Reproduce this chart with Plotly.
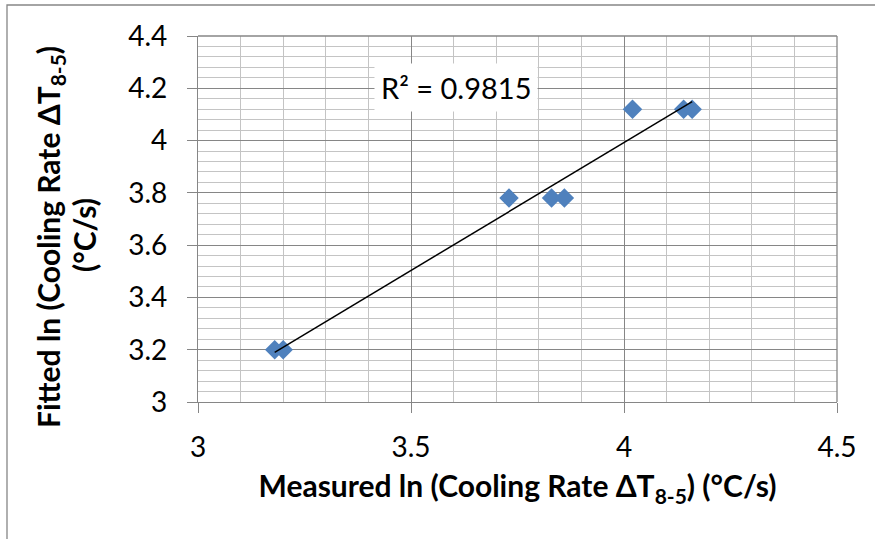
import numpy as np
import plotly.graph_objects as go

# Data
measured = [3.18, 3.20, 3.73, 3.83, 3.86, 4.02, 4.14, 4.16]
fitted = [3.20, 3.20, 3.78, 3.78, 3.78, 4.12, 4.12, 4.12]
r2_label = "R² = 0.9815"
x_ticks = [3, 3.5, 4, 4.5]
y_ticks = [3, 3.2, 3.4, 3.6, 3.8, 4, 4.2, 4.4]
x_title = "Measured ln (Cooling Rate ΔT<sub>8-5</sub>) (°C/s)"
y_title_lines = ["Fitted ln (Cooling Rate ΔT<sub>8-5</sub>)", "(°C/s)"]

# Linear trendline (least squares)
slope, intercept = np.polyfit(measured, fitted, 1)
trend_x = [min(measured), max(measured)]
trend_y = [slope * v + intercept for v in trend_x]

W, H = 875, 539
L, R, T, B = 198, 38, 36, 137
pw, ph = W - L - R, H - T - B

def px(xp):
    return (xp - L) / pw

def py(yp):
    return (H - B - yp) / ph

FONT = "Lato"
MAJOR = "#868686"
MINOR = "#c4c4c4"

fig = go.Figure()
fig.add_trace(go.Scatter(
    x=measured, y=fitted, mode="markers",
    marker=dict(symbol="diamond", size=15, color="#4F81BD", line=dict(width=0)),
    showlegend=False, hoverinfo="skip",
))
fig.add_trace(go.Scatter(
    x=trend_x, y=trend_y, mode="lines",
    line=dict(color="black", width=1.5),
    showlegend=False, hoverinfo="skip",
))

fig.add_annotation(
    x=3.6065, y=4.203, xref="x", yref="y",
    text=r2_label, showarrow=False,
    font=dict(family=FONT, size=29, color="black"),
    bgcolor="white", borderpad=6,
)

# y-axis title (two lines, rotated)
for text, xc, yc in zip(y_title_lines, [50, 84], [237, 235]):
    fig.add_annotation(
        x=px(xc), y=py(yc), xref="paper", yref="paper",
        xanchor="center", yanchor="middle",
        text=text, textangle=-90, showarrow=False,
        font=dict(family=FONT, size=30, color="black", weight=700),
    )

# outer chart frame
fig.add_shape(type="rect", xref="paper", yref="paper",
              x0=px(7), x1=px(885), y0=py(550), y1=py(5),
              line=dict(color=MAJOR, width=1.3), fillcolor="rgba(0,0,0,0)",
              layer="below")

axis_common = dict(
    showline=True, linecolor=MAJOR, linewidth=1.3, mirror=False,
    showgrid=True, gridcolor=MAJOR, gridwidth=1,
    ticks="outside", ticklen=10, tickcolor=MAJOR, tickwidth=1.3,
    tickfont=dict(family=FONT, size=28, color="black"),
    zeroline=False,
)

fig.update_xaxes(
    range=[3, 4.5], tickvals=x_ticks, ticktext=[str(v) for v in x_ticks],
    minor=dict(dtick=0.1, tick0=3, showgrid=True, gridcolor=MINOR, gridwidth=1, ticks=""),
    title=dict(text=x_title,
               font=dict(family=FONT, size=30, color="black", weight=700), standoff=14),
    ticklabelstandoff=10,
    **axis_common,
)
fig.update_yaxes(
    range=[3, 4.4], tickvals=y_ticks, ticktext=[f"{v:g}" for v in y_ticks],
    minor=dict(dtick=0.04, tick0=3, showgrid=True, gridcolor=MINOR, gridwidth=1, ticks=""),
    ticklabelstandoff=14,
    **axis_common,
)

# top & right plot borders
fig.add_shape(type="line", xref="paper", yref="paper", x0=0, x1=1, y0=1, y1=1,
              line=dict(color=MAJOR, width=1.3))
fig.add_shape(type="line", xref="paper", yref="paper", x0=1, x1=1, y0=0, y1=1,
              line=dict(color=MAJOR, width=1.3))

fig.update_layout(
    width=W, height=H,
    margin=dict(l=L, r=R, t=T, b=B, autoexpand=False),
    paper_bgcolor="white", plot_bgcolor="white",
    font=dict(family=FONT),
)

fig.write_html("out.html")
